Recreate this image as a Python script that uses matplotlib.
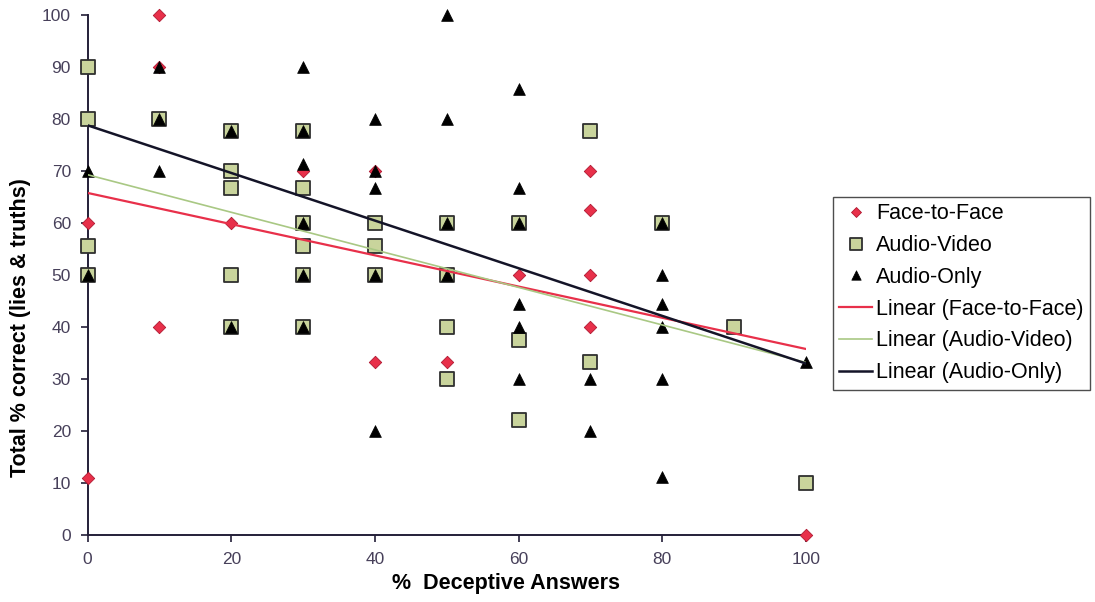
import matplotlib
matplotlib.use("Agg")
import matplotlib.pyplot as plt

plt.rcParams['font.family'] = ['Liberation Sans', 'DejaVu Sans']

# --- data ---
face_x = [0, 0, 10, 10, 10, 20, 30, 40, 40, 50, 60, 70, 70, 70, 70, 100]
face_y = [60, 11, 100, 90, 40, 60, 70, 70, 33.3, 33.3, 50, 70, 62.5, 50, 40, 0]

av_x = [0, 0, 0, 0, 10, 20, 20, 20, 20, 20, 30, 30, 30, 30, 30, 30,
        40, 40, 40, 50, 50, 50, 50, 60, 60, 60, 70, 70, 80, 90, 100]
av_y = [90, 80, 55.6, 50, 80, 77.8, 70, 66.7, 50, 40, 77.8, 66.7, 60, 55.6, 50, 40,
        60, 55.6, 50, 60, 50, 40, 30, 60, 37.5, 22.2, 77.8, 33.3, 60, 40, 10]

ao_x = [0, 0, 10, 10, 10, 20, 20, 30, 30, 30, 30, 30, 30,
        40, 40, 40, 40, 40, 50, 50, 50, 50, 60, 60, 60, 60, 60, 60,
        70, 70, 80, 80, 80, 80, 80, 80, 100]
ao_y = [70, 50, 90, 80, 70, 77.8, 40, 90, 77.8, 71.4, 60, 50, 40,
        80, 70, 66.7, 50, 20, 100, 80, 60, 50, 85.7, 66.7, 60, 44.4, 40, 30,
        30, 20, 60, 50, 44.4, 40, 30, 11.1, 33.3]

# linear trend lines (value at x=0 and x=100, as drawn)
trend_x = [0, 100]
face_trend = [65.8, 35.8]
av_trend = [69.3, 33.2]
ao_trend = [78.8, 33.0]

fig = plt.figure(figsize=(10.95, 6.02), dpi=100)
ax = fig.add_axes([0.080, 0.111, 0.656, 0.864])

ax.scatter(face_x, face_y, marker='D', s=40, color='#e8304a', edgecolors='#b01830',
           linewidths=0.6, zorder=3, clip_on=False, label='Face-to-Face')
ax.scatter(av_x, av_y, marker='s', s=100, color='#c9d49c', edgecolors='#2f2f2f',
           linewidths=1.3, zorder=4, clip_on=False, label='Audio-Video')
ax.scatter(ao_x, ao_y, marker='^', s=72, color='black', edgecolors='black',
           linewidths=0.5, zorder=5, clip_on=False, label='Audio-Only')

ax.plot(trend_x, face_trend, color='#e8304a', lw=1.6, zorder=6, label='Linear (Face-to-Face)')
ax.plot(trend_x, av_trend, color='#a9c884', lw=1.2, zorder=6, label='Linear (Audio-Video)')
ax.plot(trend_x, ao_trend, color='#141428', lw=1.8, zorder=6, label='Linear (Audio-Only)')

ax.set_xlim(0, 100)
ax.set_ylim(0, 100)
ax.set_xticks(range(0, 101, 20))
ax.set_yticks(range(0, 101, 10))
for side in ['top', 'right']:
    ax.spines[side].set_visible(False)
for side in ['left', 'bottom']:
    ax.spines[side].set_color('#241f38')
    ax.spines[side].set_linewidth(1.4)
ax.tick_params(direction='out', length=5, width=1.2, color='#241f38',
               labelsize=12.5, labelcolor='#47405a', pad=7)

ax.set_xlabel('%  Deceptive Answers', fontsize=15.5, fontweight='bold')
ax.xaxis.set_label_coords(0.583, -0.073)
ax.set_ylabel('Total % correct (lies & truths)', fontsize=15.5, fontweight='bold')
ax.yaxis.set_label_coords(-0.079, 0.40)

leg = fig.legend(loc='upper left', bbox_to_anchor=(0.7607, 0.6728), borderaxespad=0,
                 fontsize=15.5, frameon=True, fancybox=False, edgecolor='#222222',
                 handlelength=1.5, handletextpad=0.2, labelspacing=0.5, borderpad=0.3,
                 markerscale=0.8, scatteryoffsets=[0.5])
leg.get_frame().set_linewidth(1.0)

fig.savefig('out.png', dpi=100)
